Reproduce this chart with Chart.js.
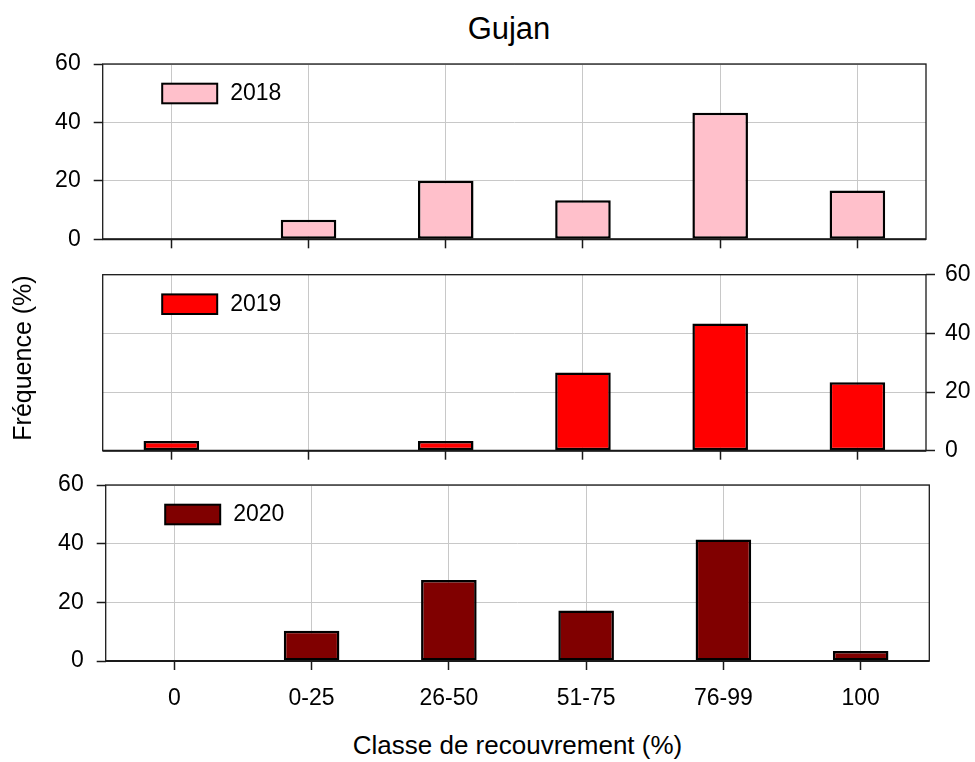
<!DOCTYPE html>
<html>
<head>
<meta charset="utf-8">
<title>Gujan</title>
<script src="https://cdn.jsdelivr.net/npm/chart.js@4.4.1/dist/chart.umd.min.js"></script>
<style>
    body { margin: 0; background: #fff; font-family: "Liberation Sans", Arial, sans-serif; }
    #page { position: relative; width: 975px; height: 762px; overflow: hidden; background: #fff; }
    .panel { position: absolute; left: 0; }
    #titre { position: absolute; left: 509px; top: 11px; transform: translateX(-50%); font-size: 31px; line-height: 36px; white-space: nowrap; }
    #xtitre { position: absolute; left: 517.5px; top: 730px; transform: translateX(-50%); font-size: 26px; line-height: 30px; white-space: nowrap; }
    #ytitre { position: absolute; left: -128px; top: 343px; width: 300px; text-align: center; font-size: 25px; line-height: 30px; transform: rotate(-90deg); white-space: nowrap; }
</style>
</head>
<body>
<div id="page">
    <div id="titre">Gujan</div>
    <canvas id="p1" class="panel" width="975" height="260" style="top:0px"></canvas>
    <canvas id="p2" class="panel" width="975" height="210" style="top:260px"></canvas>
    <canvas id="p3" class="panel" width="975" height="250" style="top:470px"></canvas>
    <div id="ytitre">Fréquence (%)</div>
    <div id="xtitre">Classe de recouvrement (%)</div>
</div>
<script>

// donnees
var categories = ["0", "0-25", "26-50", "51-75", "76-99", "100"];
var years = ["2018", "2019", "2020"];
var freq2018 = [0, 6.67, 20, 13.33, 43.33, 16.67];
var freq2019 = [3.33, 0, 3.33, 26.67, 43.33, 23.33];
var freq2020 = [0, 10.34, 27.59, 17.24, 41.38, 3.45];
var yTicks = [0, 20, 40, 60];
var colors = ["#ffc0cb", "#ff0000", "#800000"];

var police = '"Liberation Sans", Arial, sans-serif';

// cadre autour du graphique + legende dans la zone
var cadre = {
    id: 'cadre',
    afterDraw: function (chart) {
        var a = chart.chartArea;
        var ctx = chart.ctx;
        ctx.save();
        ctx.strokeStyle = '#1a1a1a';
        ctx.lineWidth = 1.3;
        ctx.strokeRect(a.left, a.top, a.right - a.left, a.bottom - a.top);
        ctx.lineWidth = 2;
        ctx.beginPath();
        ctx.moveTo(a.left, a.bottom);
        ctx.lineTo(a.right, a.bottom);
        ctx.stroke();

        var ds = chart.data.datasets[0];
        var x = a.left + 59.5, y = a.top + 19.7;
        ctx.fillStyle = ds.backgroundColor;
        ctx.fillRect(x, y, 55, 19.6);
        ctx.strokeStyle = '#000';
        ctx.lineWidth = 2;
        ctx.strokeRect(x, y, 55, 19.6);
        ctx.fillStyle = '#000';
        ctx.font = '23px ' + police;
        ctx.textBaseline = 'middle';
        ctx.fillText(ds.label, x + 55 + 13, y + 9.8);
        ctx.restore();
    }
};

// pas de marge auto pour les etiquettes, la zone est fixee a la main
var noPad = function (s) {
    s.paddingTop = 0;
    s.paddingBottom = 0;
    s.paddingLeft = 0;
    s.paddingRight = 0;
};

var makePanel = function (id, label, values, color, p) {
    var ctx = document.getElementById(id).getContext("2d");
    return new Chart(ctx, {
        type: "bar",
        data: {
            labels: categories,
            datasets: [
                {
                    label: label,
                    data: values,
                    backgroundColor: color,
                    borderColor: "#000",
                    borderWidth: 2.5,
                    borderSkipped: false,
                    barPercentage: 0.405,
                    categoryPercentage: 1
                }
            ]
        },
        options: {
            responsive: false,
            animation: false,
            events: [],
            layout: { padding: p.pad },
            plugins: {
                legend: { display: false },
                tooltip: { enabled: false }
            },
            scales: {
                x: {
                    offset: true,
                    grid: { offset: false, color: "#c8c8c8", lineWidth: 1, tickColor: "#1a1a1a", tickLength: 9, tickWidth: 1.5 },
                    border: { display: false },
                    ticks: { display: p.labels, color: "#000", font: { size: 23, family: police }, padding: 15, maxRotation: 0, autoSkip: false },
                    afterFit: function (s) { s.height = p.xh; noPad(s); }
                },
                y: {
                    position: p.side,
                    min: 0,
                    max: 60,
                    afterBuildTicks: function (s) {
                        s.ticks = yTicks.map(function (v) { return { value: v }; });
                    },
                    grid: { color: "#c8c8c8", lineWidth: 1, tickColor: "#1a1a1a", tickLength: 9, tickWidth: 1.5 },
                    border: { display: false },
                    ticks: { color: "#000", font: { size: 23, family: police }, padding: p.side === "left" ? 13 : 10 },
                    afterFit: function (s) { s.width = p.yw; noPad(s); }
                }
            }
        },
        plugins: [cadre]
    });
};

makePanel("p1", years[0], freq2018, colors[0],
    { pad: { left: 0, top: 64, right: 49, bottom: 0 }, yw: 102.7, xh: 20.7, side: "left", labels: false });
makePanel("p2", years[1], freq2019, colors[1],
    { pad: { left: 102.7, top: 14.7, right: 0, bottom: 0 }, yw: 49, xh: 19.3, side: "right", labels: false });
makePanel("p3", years[2], freq2020, colors[2],
    { pad: { left: 0, top: 15, right: 45.7, bottom: 0 }, yw: 105.7, xh: 59, side: "left", labels: true });

</script>
</body>
</html>
